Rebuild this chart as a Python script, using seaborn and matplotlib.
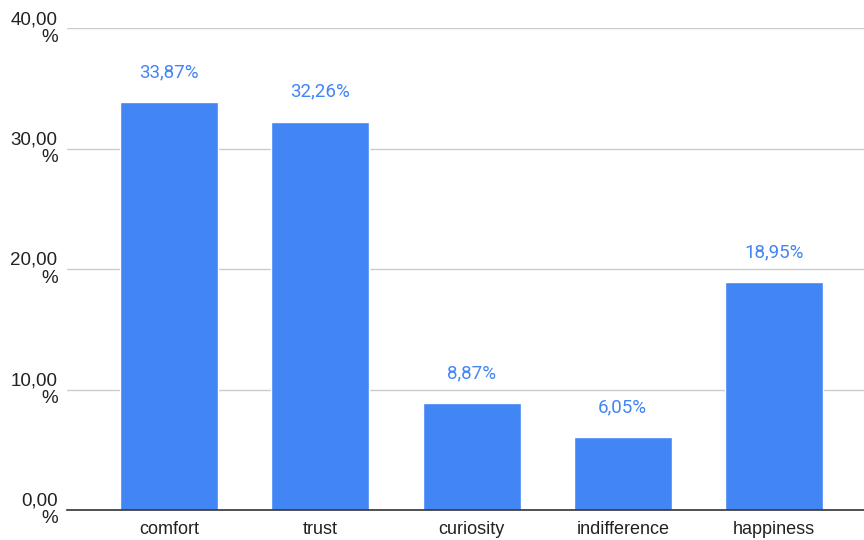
import matplotlib
matplotlib.use("Agg")
import matplotlib.pyplot as plt
import seaborn as sns
import pandas as pd

categories = ["comfort", "trust", "curiosity", "indifference", "happiness"]
shares = [33.87, 32.26, 8.87, 6.05, 18.95]
y_ticks = [0, 10, 20, 30, 40]

BAR_COLOR = "#4285F4"
AXIS_FONT = ["Liberation Sans", "DejaVu Sans"]
VALUE_FONT = ["Roboto", "DejaVu Sans"]

sns.set_theme(style="white")
plt.rcParams["font.family"] = AXIS_FONT

df = pd.DataFrame({"category": categories, "share": shares})

fig = plt.figure(figsize=(8.64, 5.4), dpi=100)
ax = fig.add_axes([0.077, 0.0556, 0.923, 0.8917])

sns.barplot(data=df, x="category", y="share", color=BAR_COLOR,
            saturation=1, width=0.648, ax=ax, zorder=3)

ax.set_xlim(-0.678, 4.595)
ax.set_ylim(0, 40)
ax.set_yticks(y_ticks)
ax.set_yticklabels([f"{v:.2f}".replace(".", ",") + "\n%" for v in y_ticks],
                   ha="right", linespacing=1.05)
ax.tick_params(axis="y", length=0, pad=6.5, labelsize=13.5, labelcolor="#222222")
ax.tick_params(axis="x", length=0, pad=8, labelsize=13, labelcolor="#222222")
for lbl in ax.get_yticklabels():
    lbl.set_verticalalignment("center")
    lbl.set_multialignment("right")

ax.grid(axis="y", color="#cccccc", linewidth=1.0, zorder=0)
ax.set_axisbelow(True)
for side in ["top", "right", "left"]:
    ax.spines[side].set_visible(False)
ax.spines["bottom"].set_color("#333333")
ax.spines["bottom"].set_linewidth(1.2)
ax.spines["bottom"].set_zorder(4)

ax.set_xlabel("")
ax.set_ylabel("")

for i, v in enumerate(shares):
    ax.annotate(f"{v:.2f}".replace(".", ",") + "%", xy=(i, v),
                xytext=(0, 15), textcoords="offset points",
                ha="center", va="bottom", fontsize=13.5, color=BAR_COLOR,
                family=VALUE_FONT)

fig.savefig("out.png", dpi=100)
